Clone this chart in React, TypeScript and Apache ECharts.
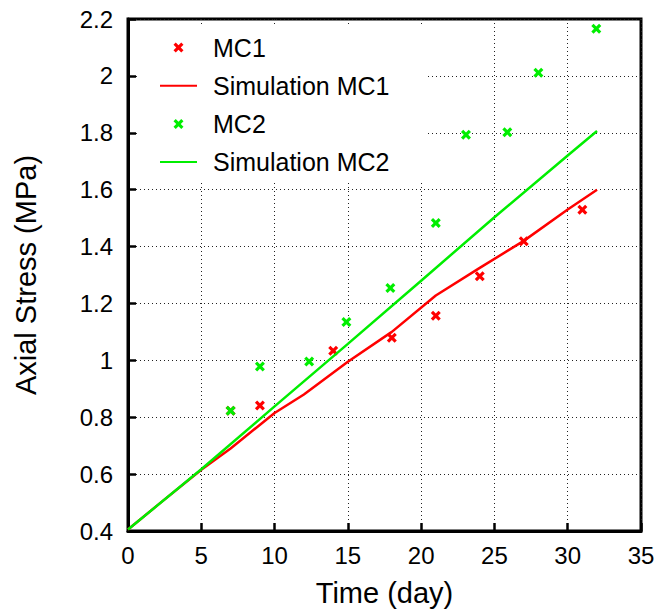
import React, { useEffect, useRef } from "react";
import * as echarts from "echarts";

const mc1Days = [7, 9, 14, 18, 21, 24, 27, 31];
const mc1Stress = [0.823, 0.841, 1.034, 1.079, 1.157, 1.296, 1.419, 1.529];

const mc2Days = [7, 9, 12.36, 14.9, 17.9, 21, 23.06, 25.88, 28, 31.95];
const mc2Stress = [0.823, 0.978, 0.996, 1.135, 1.254, 1.483, 1.793, 1.802, 2.011, 2.166];

const sim1Days = [0, 2, 5, 7, 10, 12, 15, 18, 21, 24, 27, 30, 32];
const sim1Stress = [0.405, 0.49, 0.615, 0.69, 0.815, 0.88, 0.995, 1.1, 1.228, 1.325, 1.42, 1.53, 1.6];

const sim2Days = [0, 5, 10, 15, 20, 25, 30, 32];
const sim2Stress = [0.405, 0.617, 0.838, 1.058, 1.28, 1.503, 1.72, 1.806];

const xTicks = { min: 0, max: 35, interval: 5 };
const yTicks = { min: 0.4, max: 2.2, interval: 0.2 };

const RED = "#ff0000";
const GREEN = "#00ee00";
const FONT = "Liberation Sans, Arial, Helvetica, sans-serif";
const CROSS = "path://M0,2.25L2.25,0L5,2.75L7.75,0L10,2.25L7.25,5L10,7.75L7.75,10L5,7.25L2.25,10L0,7.75L2.75,5Z";

const zip = (xs: number[], ys: number[]) => xs.map((x, i) => [x, ys[i]]);

export default function App() {
  const ref = useRef<HTMLDivElement>(null);
  useEffect(() => {
    document.body.style.margin = "0";
    if (!ref.current) return;
    const chart = echarts.init(ref.current, null, { renderer: "svg" });
    const splitLine = {
      show: true,
      lineStyle: { color: "#222", width: 1, type: [1, 3] as any },
    };
    const hiddenDot = { color: "rgba(0,0,0,0)", borderWidth: 0, opacity: 0 };
    chart.setOption({
      animation: false,
      backgroundColor: "#fff",
      grid: {
        left: 128,
        top: 19,
        right: 19,
        bottom: 81,
        show: true,
        borderColor: "#000",
        borderWidth: 3,
        backgroundColor: "transparent",
      },
      legend: {
        orient: "vertical",
        left: 138,
        top: 27,
        padding: [8, 36, 7, 21],
        backgroundColor: "#fff",
        z: 10,
        itemWidth: 37,
        itemHeight: 10,
        itemGap: 13.2,
        textStyle: {
          fontFamily: FONT,
          fontSize: 25,
          color: "#000",
          lineHeight: 24.5,
          padding: [0, 0, 0, 11],
        },
        data: [
          { name: "MC1" },
          { name: "Simulation MC1", itemStyle: hiddenDot },
          { name: "MC2" },
          { name: "Simulation MC2", itemStyle: hiddenDot },
        ],
      },
      xAxis: {
        type: "value",
        min: xTicks.min,
        max: xTicks.max,
        interval: xTicks.interval,
        name: "Time (day)",
        nameLocation: "middle",
        nameGap: 47,
        nameTextStyle: { fontFamily: FONT, fontSize: 29, color: "#000" },
        axisLine: { show: true, lineStyle: { color: "#000", width: 3 } },
        axisTick: { show: true, inside: true, length: 8, lineStyle: { color: "#000", width: 2.5 } },
        axisLabel: { fontFamily: FONT, fontSize: 24, color: "#000", margin: 12 },
        splitLine,
      },
      yAxis: {
        type: "value",
        min: yTicks.min,
        max: yTicks.max,
        interval: yTicks.interval,
        name: "Axial Stress (MPa)",
        nameLocation: "middle",
        nameGap: 88,
        nameTextStyle: { fontFamily: FONT, fontSize: 29, color: "#000" },
        axisLine: { show: true, lineStyle: { color: "#000", width: 3 } },
        axisTick: { show: true, inside: true, length: 8, lineStyle: { color: "#000", width: 2.5 } },
        axisLabel: {
          fontFamily: FONT,
          fontSize: 24,
          color: "#000",
          margin: 15,
          formatter: (v: number) => String(+v.toFixed(1)),
        },
        splitLine,
      },
      series: [
        {
          name: "MC1",
          type: "scatter",
          data: zip(mc1Days, mc1Stress),
          symbol: CROSS,
          symbolSize: 10,
          symbolKeepAspect: true,
          itemStyle: { color: RED, opacity: 1 },
        },
        {
          name: "Simulation MC1",
          type: "line",
          data: zip(sim1Days, sim1Stress),
          symbol: "none",
          lineStyle: { color: RED, width: 2.5 },
          itemStyle: { color: RED },
        },
        {
          name: "MC2",
          type: "scatter",
          data: zip(mc2Days, mc2Stress),
          symbol: CROSS,
          symbolSize: 10,
          symbolKeepAspect: true,
          itemStyle: { color: GREEN, opacity: 1 },
        },
        {
          name: "Simulation MC2",
          type: "line",
          data: zip(sim2Days, sim2Stress),
          symbol: "none",
          lineStyle: { color: GREEN, width: 2.5 },
          itemStyle: { color: GREEN },
        },
      ],
    });
    return () => chart.dispose();
  }, []);
  return <div ref={ref} style={{ width: 660, height: 612 }} />;
}
